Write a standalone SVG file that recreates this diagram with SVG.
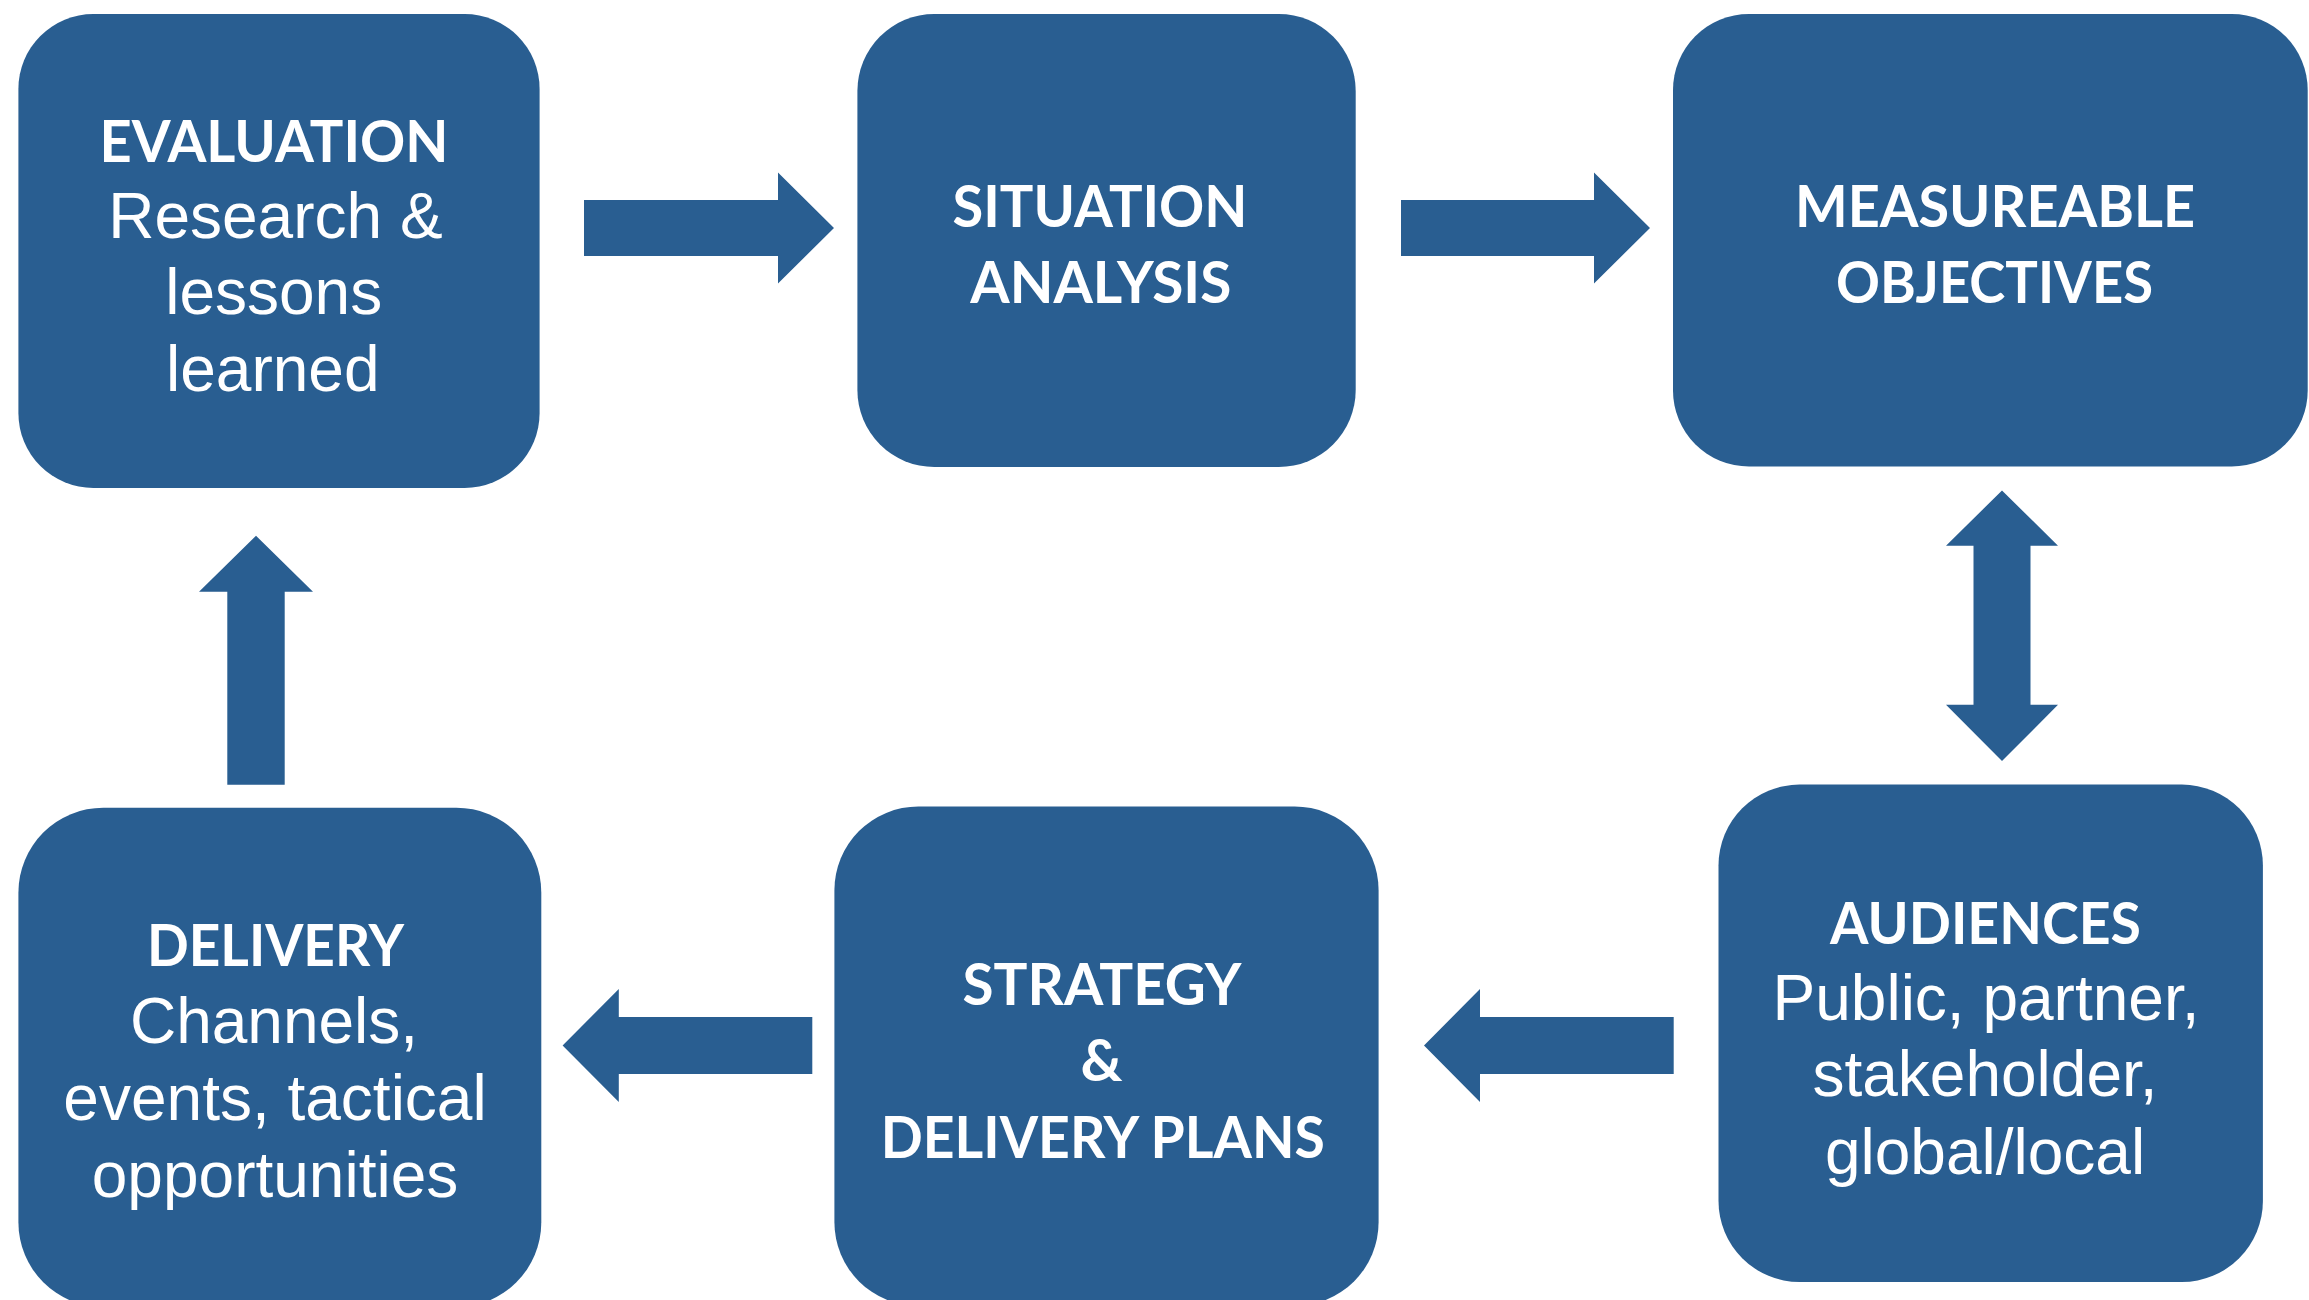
<svg xmlns="http://www.w3.org/2000/svg" width="2309" height="1300" viewBox="0 0 2309 1300">
<style>
.box{fill:#295e91}
.arrow{fill:#295e91}
.b{font-family:Lato,"Open Sans","DejaVu Sans",sans-serif;font-weight:700;font-size:58px;fill:#ffffff;text-anchor:middle}
.r{font-family:"Liberation Sans",Arial,sans-serif;font-weight:400;font-size:64px;fill:#ffffff;text-anchor:middle}
</style>
<rect x="0" y="0" width="2309" height="1300" fill="#ffffff"/>
<g id="connectors">
<polygon class="arrow" points="584,200 778,200 778,172.5 834,228 778,283.5 778,256 584,256"/>
<polygon class="arrow" points="1401,200 1594,200 1594,172.5 1650,228 1594,283.5 1594,256 1401,256"/>
<polygon class="arrow" points="2002,490.5 2058,545.7 2030.5,545.7 2030.5,704.8 2058,704.8 2002,761 1946,704.8 1973.5,704.8 1973.5,545.7 1946,545.7"/>
<polygon class="arrow" points="1673.7,1017 1480,1017 1480,989 1424,1045.5 1480,1102 1480,1074 1673.7,1074"/>
<polygon class="arrow" points="812.3,1017 618.8,1017 618.8,989 562.6,1045.5 618.8,1102 618.8,1074 812.3,1074"/>
<polygon class="arrow" points="256,535.7 313,591.8 284.7,591.8 284.7,784.7 227.3,784.7 227.3,591.8 199,591.8"/>
</g>
<g id="evaluation">
<rect class="box" x="18.4" y="14" width="521.2" height="474" rx="75" ry="75"/>
<text class="b" x="274" y="161.7" textLength="349" lengthAdjust="spacingAndGlyphs">EVALUATION</text>
<text class="r" x="275.4" y="238">Research &amp;</text>
<text class="r" x="273.7" y="314">lessons</text>
<text class="r" x="272.8" y="391">learned</text>
</g>
<g id="situation">
<rect class="box" x="857.4" y="14" width="498.3" height="453" rx="77" ry="77"/>
<text class="b" x="1100" y="227.2" textLength="295" lengthAdjust="spacingAndGlyphs">SITUATION</text>
<text class="b" x="1100.8" y="302.8" textLength="261" lengthAdjust="spacingAndGlyphs">ANALYSIS</text>
</g>
<g id="objectives">
<rect class="box" x="1673" y="14" width="634.7" height="452.5" rx="76" ry="76"/>
<text class="b" x="1995" y="227.2" textLength="400" lengthAdjust="spacingAndGlyphs">MEASUREABLE</text>
<text class="b" x="1994.5" y="302.8" textLength="317" lengthAdjust="spacingAndGlyphs">OBJECTIVES</text>
</g>
<g id="audiences">
<rect class="box" x="1718.5" y="784.6" width="544.4" height="497.4" rx="81" ry="81"/>
<text class="b" x="1985.5" y="943.7" textLength="311" lengthAdjust="spacingAndGlyphs">AUDIENCES</text>
<text class="r" x="1986" y="1019.7">Public, partner,</text>
<text class="r" x="1985" y="1096.3">stakeholder,</text>
<text class="r" x="1985" y="1174">global/local</text>
</g>
<g id="strategy">
<rect class="box" x="834.4" y="806.5" width="544.2" height="499.5" rx="84" ry="84"/>
<text class="b" x="1102" y="1004.5" textLength="279" lengthAdjust="spacingAndGlyphs">STRATEGY</text>
<text class="b" x="1101.4" y="1081">&amp;</text>
<text class="b" x="1102.8" y="1157.7" textLength="444" lengthAdjust="spacingAndGlyphs">DELIVERY PLANS</text>
</g>
<g id="delivery">
<rect class="box" x="18.4" y="807.7" width="522.9" height="499.5" rx="85" ry="85"/>
<text class="b" x="275.5" y="966" textLength="257" lengthAdjust="spacingAndGlyphs">DELIVERY</text>
<text class="r" x="274" y="1043.3">Channels,</text>
<text class="r" x="275" y="1120">events, tactical</text>
<text class="r" x="275" y="1197">opportunities</text>
</g>
</svg>
